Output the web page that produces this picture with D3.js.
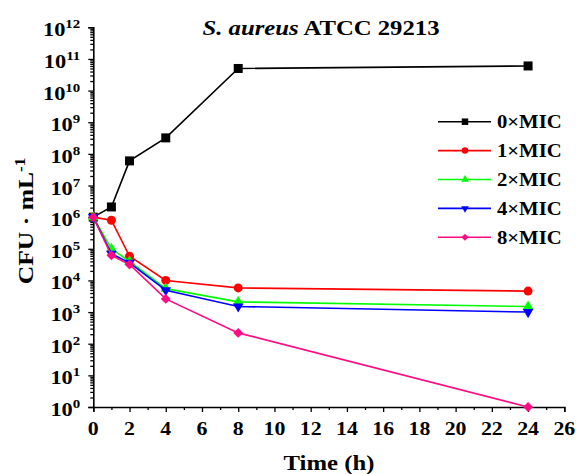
<!DOCTYPE html>
<html>
<head>
<meta charset="utf-8">
<script src="https://cdn.jsdelivr.net/npm/d3@7/dist/d3.min.js"></script>
<style>
  body { margin: 0; background: #fff; }
  svg { display: block; font-family: "Liberation Serif", "Times New Roman", serif; font-weight: bold; }
</style>
</head>
<body>
<svg id="chart"></svg>
<script>
// time-kill curve, S. aureus ATCC 29213

const times = [0, 1, 2, 4, 8, 24];
const mic0 = [1e6, 2.1e6, 6e7, 3.2e8, 5e10, 6e10];
const mic1 = [1e6, 8e5, 5.8e4, 1e4, 5.8e3, 4.6e3];
const mic2 = [1e6, 1e5, 4e4, 5.5e3, 2.1e3, 1.5e3];
const mic4 = [1e6, 7e4, 3.6e4, 4.9e3, 1.5e3, 1.0e3];
const mic8 = [1e6, 6.2e4, 3.2e4, 2.6e3, 2.2e2, 1];

const seriesNames = ["0×MIC", "1×MIC", "2×MIC", "4×MIC", "8×MIC"];
const xTicks = d3.range(0, 27, 2);
const xMinor = d3.range(1, 26, 2);
const yExps = d3.range(0, 13);

(function () {
  const W = 576, H = 474;
  const SX = 1.15;   // the picture is a bit wider than tall, stretch text the same way

  const colors = ["#000000", "#ff0000", "#00ff00", "#0000ff", "#ff0a85"];
  const shapes = ["square", "circle", "up", "down", "diamond"];
  const values = [mic0, mic1, mic2, mic4, mic8];

  const svg = d3.select("#chart").attr("width", W).attr("height", H);

  const x = d3.scaleLinear().domain([0, 26]).range([93.3, 564.3]);
  const y = d3.scaleLog().domain([1, 1e12]).range([407, 27.3]);

  function symbolPath(shape, s) {
    if (shape === "circle") return d3.symbol(d3.symbolCircle, s * s * 0.785)();
    if (shape === "square") return d3.symbol(d3.symbolSquare, s * s)();
    if (shape === "diamond") return d3.symbol(d3.symbolSquare, s * s * 0.6)();
    return d3.symbol(d3.symbolTriangle, s * s * 0.6)();
  }
  function symbolRot(shape) {
    if (shape === "down") return 180;
    if (shape === "diamond") return 45;
    return 0;
  }

  // ---- axes ----
  const minorY = [];
  yExps.slice(0, -1).forEach(e => {
    for (let k = 2; k <= 9; k++) minorY.push(k * Math.pow(10, e));
  });

  const yAxis = svg.append("g").attr("transform", `translate(${x(0)},0)`)
    .call(d3.axisLeft(y).tickValues(yExps.map(e => Math.pow(10, e))).tickSize(5).tickFormat(""));
  svg.append("g").attr("transform", `translate(${x(0)},0)`)
    .call(d3.axisLeft(y).tickValues(minorY).tickSize(3).tickFormat(""))
    .call(g => g.select(".domain").remove());

  const xAxis = svg.append("g").attr("transform", `translate(0,${y(1)})`)
    .call(d3.axisBottom(x).tickValues(xTicks).tickSize(5).tickFormat(""));
  svg.append("g").attr("transform", `translate(0,${y(1)})`)
    .call(d3.axisBottom(x).tickValues(xMinor).tickSize(3).tickFormat(""))
    .call(g => g.select(".domain").remove());

  svg.selectAll(".domain").attr("stroke", "#000").attr("stroke-width", 1.6);
  svg.selectAll(".tick line").attr("stroke", "#000").attr("stroke-width", 1.3);

  // y tick labels 10^n
  yExps.forEach(e => {
    const t = svg.append("text")
      .attr("transform", `translate(${x(0) - 13},${y(Math.pow(10, e)) + 9}) scale(${SX},1)`)
      .attr("text-anchor", "end")
      .attr("font-size", 19.5);
    t.append("tspan").text("10");
    t.append("tspan").attr("dy", -8).attr("font-size", 13).text(e);
  });

  // x tick labels
  xTicks.forEach(v => {
    svg.append("text")
      .attr("transform", `translate(${x(v)},${y(1) + 28}) scale(${SX},1)`)
      .attr("text-anchor", "middle")
      .attr("font-size", 19)
      .text(v);
  });

  // axis titles
  svg.append("text")
    .attr("transform", `translate(329,470) scale(${SX},1)`)
    .attr("text-anchor", "middle")
    .attr("font-size", 21.5)
    .text("Time (h)");

  const yt = svg.append("text")
    .attr("transform", `translate(33,221) rotate(-90) scale(1.22,1)`)
    .attr("text-anchor", "middle")
    .attr("font-size", 21);
  yt.append("tspan").text("CFU · mL");
  yt.append("tspan").attr("dy", -8).attr("font-size", 14).text("-1");

  // title
  const title = svg.append("text")
    .attr("transform", `translate(321,35) scale(${SX},1)`)
    .attr("text-anchor", "middle")
    .attr("font-size", 21.5);
  title.append("tspan").attr("font-style", "italic").text("S. aureus");
  title.append("tspan").text(" ATCC 29213");

  // ---- series ----
  const line = d3.line().x((d, i) => x(times[i])).y(d => y(d));

  values.forEach((vals, si) => {
    svg.append("path").datum(vals)
      .attr("fill", "none").attr("stroke", colors[si])
      .attr("stroke-width", 1.6)
      .attr("d", line);
    svg.append("g").selectAll("path").data(vals).join("path")
      .attr("transform", (d, i) => `translate(${x(times[i])},${y(d)}) rotate(${symbolRot(shapes[si])})`)
      .attr("d", symbolPath(shapes[si], 9))
      .attr("fill", colors[si]);
  });

  // ---- legend ----
  const lg = svg.append("g").attr("transform", "translate(438,121.7)");
  seriesNames.forEach((name, i) => {
    const row = lg.append("g").attr("transform", `translate(0,${i * 28.9})`);
    row.append("line").attr("x1", 0).attr("x2", 53).attr("y1", 0).attr("y2", 0)
      .attr("stroke", colors[i]).attr("stroke-width", 1.6);
    row.append("path")
      .attr("transform", `translate(27,0) rotate(${symbolRot(shapes[i])})`)
      .attr("d", symbolPath(shapes[i], 6.5))
      .attr("fill", colors[i]);
    row.append("text")
      .attr("transform", `translate(59,6.5) scale(${SX},1)`)
      .attr("font-size", 18)
      .text(name);
  });
})();
</script>
</body>
</html>
